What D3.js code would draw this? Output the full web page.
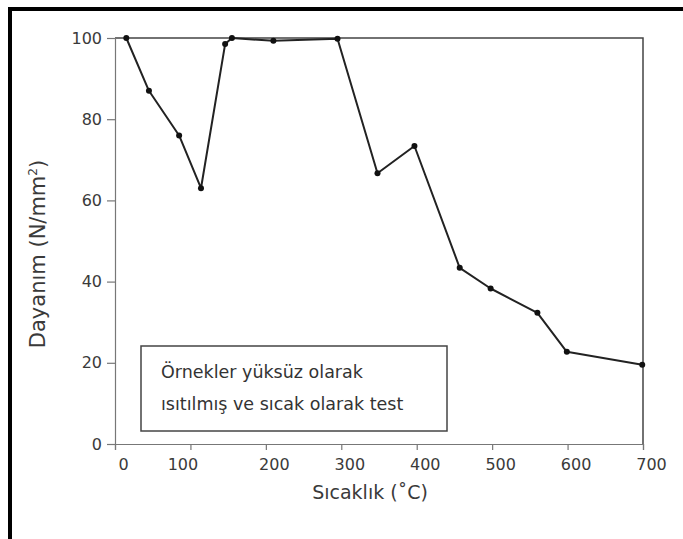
<!DOCTYPE html>
<html>
<head>
<meta charset="utf-8">
<script src="https://cdn.jsdelivr.net/npm/d3@7"></script>
<style>
  body { margin: 0; background: #fff; }
  svg text { font-family: "DejaVu Sans", sans-serif; fill: #3a3a3a; }
</style>
</head>
<body>
<div id="chart"></div>
<script>
// Temperature (°C) and strength (N/mm²)
var temperature = [15, 45, 85, 114, 146, 155, 210, 295, 348, 397, 457, 498, 560, 599, 699];
var strength = [100, 87, 76, 63, 98.5, 100, 99.3, 99.8, 66.7, 73.4, 43.4, 38.3, 32.3, 22.7, 19.5];
var xTicks = [0, 100, 200, 300, 400, 500, 600, 700];
var yTicks = [0, 20, 40, 60, 80, 100];
var noteLines = ["Örnekler yüksüz olarak", "ısıtılmış ve sıcak olarak test"];

var W = 683, H = 539;
var margin = { left: 115, top: 38, right: 40, bottom: 95 };
var width = W - margin.left - margin.right,
    height = H - margin.top - margin.bottom;

var svg = d3.select("#chart").append("svg")
    .attr("width", W).attr("height", H);

// Outer black frame (only top and left visible)
svg.append("path")
    .attr("d", "M10," + H + "V9H" + W)
    .attr("fill", "none").attr("stroke", "#000").attr("stroke-width", 4);

var g = svg.append("g")
    .attr("transform", "translate(" + margin.left + "," + margin.top + ")");

var x = d3.scaleLinear().domain([0, 700]).range([0, width]);
var y = d3.scaleLinear().domain([0, 100]).range([height, 0]);

// Top and right edges of the plot box
g.append("path")
    .attr("d", "M0,0H" + width + "V" + height)
    .attr("fill", "none").attr("stroke", "#444").attr("stroke-width", 1.5);

// X axis
var xAxis = g.append("g")
    .attr("transform", "translate(0," + height + ")")
    .call(d3.axisBottom(x).tickValues(xTicks).tickSize(6).tickPadding(9));
xAxis.select(".domain").attr("stroke", "#777").attr("stroke-width", 1.2);
xAxis.selectAll(".tick line").attr("stroke", "#777").attr("stroke-width", 1.2);
// labels in the original sit a little right of their ticks (except 100)
xAxis.selectAll(".tick text")
    .attr("dx", function (d) { return d === 100 ? -8 : 8; })
    .style("font-size", "16px").style("fill", "#3a3a3a");

// Y axis
var yAxis = g.append("g")
    .call(d3.axisLeft(y).tickValues(yTicks).tickSize(8).tickPadding(5));
yAxis.select(".domain").attr("stroke", "#777").attr("stroke-width", 1.2);
yAxis.selectAll(".tick line").attr("stroke", "#777").attr("stroke-width", 1.2);
yAxis.selectAll(".tick text")
    .style("font-size", "16px").style("fill", "#3a3a3a");

// Axis titles
svg.append("text")
    .attr("x", 370).attr("y", 499)
    .attr("text-anchor", "middle")
    .style("font-size", "19px")
    .text("Sıcaklık (˚C)");

svg.append("text")
    .attr("transform", "translate(45,254)rotate(-90)")
    .attr("text-anchor", "middle")
    .style("font-size", "21px")
    .html("Dayanım (N/mm<tspan dy='-8' font-size='12px'>2</tspan><tspan dy='8'>)</tspan>");

// Data line
var data = temperature.map(function (t, i) { return { t: t, s: strength[i] }; });

g.append("path")
    .datum(data)
    .attr("fill", "none")
    .attr("stroke", "#222")
    .attr("stroke-width", 2)
    .attr("stroke-linejoin", "round")
    .attr("d", d3.line()
        .x(function (d) { return x(d.t); })
        .y(function (d) { return y(d.s); }));

g.selectAll("circle.dot")
    .data(data)
    .enter()
    .append("circle")
    .attr("class", "dot")
    .attr("cx", function (d) { return x(d.t); })
    .attr("cy", function (d) { return y(d.s); })
    .attr("r", 3)
    .attr("fill", "#111");

// Note box
var note = g.append("g").attr("transform", "translate(" + (141 - margin.left) + "," + (346 - margin.top) + ")");
note.append("rect")
    .attr("width", 306).attr("height", 85)
    .attr("fill", "#fff").attr("stroke", "#444").attr("stroke-width", 1.5);
note.selectAll("text")
    .data(noteLines)
    .enter()
    .append("text")
    .attr("x", 20)
    .attr("y", function (d, i) { return 32 + i * 32; })
    .style("font-size", "17.5px")
    .style("fill", "#333")
    .text(function (d) { return d; });
</script>
</body>
</html>
